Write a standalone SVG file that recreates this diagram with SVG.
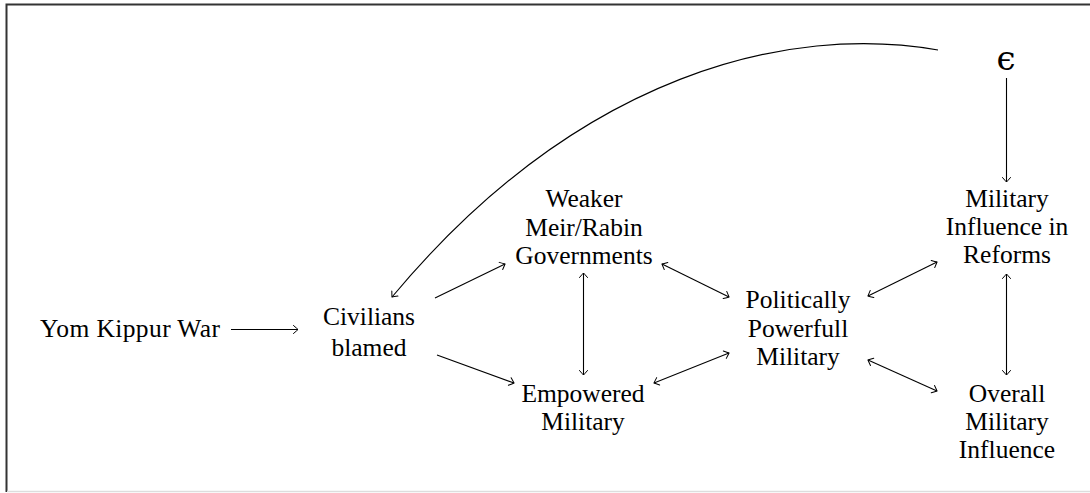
<svg xmlns="http://www.w3.org/2000/svg" width="1090" height="493" viewBox="0 0 1090 493">
  <defs>
    <marker id="to" viewBox="-6 -5 8 10" refX="0" refY="0" markerWidth="8" markerHeight="10" markerUnits="userSpaceOnUse" orient="auto-start-reverse">
      <path d="M -4.5 -4 Q -1.2 -1.2 0 0 Q -1.2 1.2 -4.5 4" fill="none" stroke="#000" stroke-width="1" stroke-linecap="round"/>
    </marker>
    <style>
      text { font-family: "Liberation Serif", "Times New Roman", serif; font-size: 25.5px; fill: #000; text-anchor: middle; }
      .eps { font-family: "DejaVu Serif", serif; font-size: 34px; }
      .edge { fill: none; stroke: #000; stroke-width: 1.1; }
      .one { marker-end: url(#to); }
      .two { marker-start: url(#to); marker-end: url(#to); }
    </style>
  </defs>

  <rect width="1090" height="493" fill="#fff"/>
  <!-- frame -->
  <path d="M 6.5 492 V 4.5 H 1090" fill="none" stroke="#333" stroke-width="2"/>
  <path d="M 7 491.5 H 1090" fill="none" stroke="#ddd" stroke-width="1.5"/>

  <g id="connectors">
    <path class="edge one" d="M 231 329.5 H 298"/>
    <path class="edge one" d="M 435 298 L 505 264"/>
    <path class="edge one" d="M 437 355 L 514 383"/>
    <path class="edge two" d="M 583.5 273 V 375"/>
    <path class="edge two" d="M 662 264 L 729 297"/>
    <path class="edge two" d="M 654 383 L 729 353"/>
    <path class="edge two" d="M 868 296 L 937 262"/>
    <path class="edge two" d="M 868 360 L 937 391"/>
    <path class="edge two" d="M 1006.5 274 V 375"/>
    <path class="edge one" d="M 1006.5 78 V 182"/>
    <path class="edge one" d="M 938 50 C 790 24 580 72 392 297"/>
  </g>

  <g id="yom-kippur">
    <text x="130" y="337" textLength="180" lengthAdjust="spacing">Yom Kippur War</text>
  </g>
  <g id="civilians-blamed">
    <text x="369" y="325">Civilians</text>
    <text x="369" y="356">blamed</text>
  </g>
  <g id="weaker-governments">
    <text x="584" y="207">Weaker</text>
    <text x="584" y="236">Meir/Rabin</text>
    <text x="584" y="264">Governments</text>
  </g>
  <g id="empowered-military">
    <text x="583" y="402">Empowered</text>
    <text x="583" y="430">Military</text>
  </g>
  <g id="powerful-military">
    <text x="798" y="308">Politically</text>
    <text x="798" y="337">Powerfull</text>
    <text x="798" y="365">Military</text>
  </g>
  <g id="reform-influence">
    <text x="1007" y="207">Military</text>
    <text x="1007" y="235">Influence in</text>
    <text x="1007" y="263">Reforms</text>
  </g>
  <g id="overall-influence">
    <text x="1007" y="402">Overall</text>
    <text x="1007" y="430">Military</text>
    <text x="1007" y="458">Influence</text>
  </g>
  <g id="epsilon">
    <text class="eps" x="1006" y="70">ϵ</text>
  </g>
</svg>
